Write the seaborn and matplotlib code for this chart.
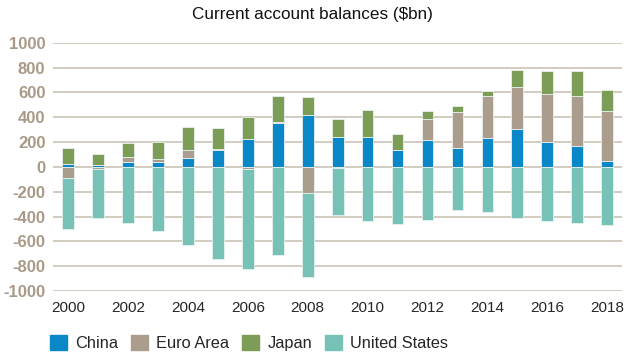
import matplotlib
matplotlib.use("Agg")
import matplotlib.pyplot as plt
import numpy as np
import pandas as pd
import seaborn as sns

years = list(range(2000, 2019))
china = [20, 17, 35, 43, 69, 132, 228, 350, 417, 242, 237, 134, 215, 148, 234, 304, 199, 164, 46]
euro = [-89, -21, 46, 19, 70, 8, -19, 10, -207, -13, 0, 0, 169, 296, 339, 341, 387, 409, 406]
japan = [130, 88, 112, 140, 180, 170, 175, 207, 142, 142, 220, 129, 65, 48, 40, 135, 188, 196, 169]
usa = [-408, -390, -449, -519, -632, -742, -804, -712, -683, -371, -438, -457, -430, -349, -366, -409, -433, -449, -470]

colors = {
    'China': '#0a87c6',
    'Euro Area': '#ab9d8d',
    'Japan': '#7b9d56',
    'United States': '#77c2b7',
}

df = pd.DataFrame({'year': [str(y) for y in years], 'China': china,
                   'Euro Area': euro, 'Japan': japan, 'United States': usa})
euro_arr = np.array(euro)
china_arr = np.array(china)
# positive values stack upward from 0, negative ones downward
bottoms = {
    'China': np.zeros(len(years)),
    'Euro Area': np.where(euro_arr >= 0, china_arr, 0),
    'Japan': china_arr + np.clip(euro_arr, 0, None),
    'United States': np.clip(euro_arr, None, 0),
}

sns.set_style('white')
plt.rcParams['font.family'] = ['Liberation Sans', 'DejaVu Sans']

fig = plt.figure(figsize=(6.26, 3.56), dpi=100)
ax = fig.add_axes([0.0847, 0.1826, 0.9085, 0.6975])

grid_col = '#cfc7bb'
for v in range(-1000, 1001, 200):
    ax.axhline(v, color=grid_col, lw=1.3, zorder=0)

for name in ['China', 'Euro Area', 'Japan', 'United States']:
    sns.barplot(data=df, x='year', y=name, color=colors[name], width=0.39,
                bottom=bottoms[name], saturation=1, edgecolor='#e8f0ee',
                linewidth=0.6, ax=ax, label=name, zorder=3)

ax.set_ylim(-1000, 1000)
ax.set_xlim(-0.51, 18.49)
ax.set_yticks(range(-1000, 1001, 200))
ax.set_yticklabels([str(v) for v in range(-1000, 1001, 200)],
                   color='#a89a87', fontweight='bold', fontsize=12)
ax.set_xticks(range(0, 19, 2))
ax.set_xticklabels([str(y) for y in years[::2]], fontsize=11)
ax.tick_params(axis='y', length=0, pad=5.5)
ax.tick_params(axis='x', length=0, pad=7.5)
ax.set_xlabel('')
ax.set_ylabel('')
for s in ax.spines.values():
    s.set_visible(False)

if ax.get_legend():
    ax.get_legend().remove()
handles = [plt.Rectangle((0, 0), 1, 1, color=colors[n]) for n in colors]
fig.legend(handles, list(colors.keys()), loc='center left', bbox_to_anchor=(0.08, 0.0365),
           ncol=4, frameon=False, fontsize=11.8, handlelength=1.04, handleheight=1.04,
           handletextpad=0.49, columnspacing=0.8, borderpad=0, borderaxespad=0)

fig.text(0.4995, 0.96, 'Current account balances ($bn)', ha='center', va='center',
         fontsize=12.3, color='#111111')

fig.savefig('out.png', dpi=100)
